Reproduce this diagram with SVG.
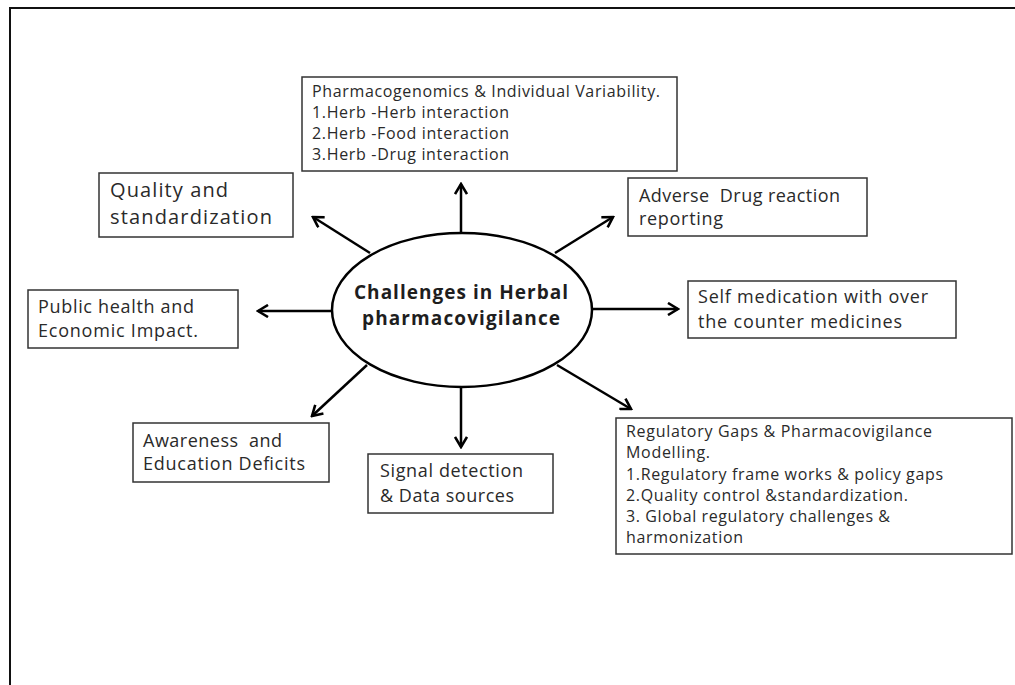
<svg xmlns="http://www.w3.org/2000/svg" width="1015" height="685" viewBox="0 0 1015 685">
<defs>
<style>
.box{fill:#fff;stroke:#333;stroke-width:1.5}
.t{font-family:"Open Sans","Noto Sans","Liberation Sans",sans-serif;fill:#2a2a2a;font-size:18px}
.ts{font-size:16px}
.tl{font-size:20px}
.c{font-family:"Open Sans","Noto Sans","Liberation Sans",sans-serif;font-weight:bold;fill:#1e1e1e;font-size:19px;text-anchor:middle}
.arr{stroke:#000;stroke-width:2.5;fill:none;marker-end:url(#ah)}
</style>
<marker id="ah" markerUnits="userSpaceOnUse" viewBox="0 0 14 14" refX="12" refY="7" markerWidth="14" markerHeight="14" orient="auto">
<path d="M2,1 L12,7 L2,13" fill="none" stroke="#000" stroke-width="2.6" stroke-linejoin="miter"/>
</marker>
</defs>
<rect width="1015" height="685" fill="#fff"/>
<rect x="10" y="8" width="1030" height="700" fill="none" stroke="#111" stroke-width="2"/>

<g id="connectors">
<line class="arr" x1="461" y1="233" x2="461" y2="184"/>
<line class="arr" x1="370" y1="253" x2="313" y2="217"/>
<line class="arr" x1="555" y1="253" x2="613" y2="217"/>
<line class="arr" x1="332" y1="311" x2="258" y2="311"/>
<line class="arr" x1="592" y1="309" x2="678" y2="309"/>
<line class="arr" x1="367" y1="365" x2="312" y2="416"/>
<line class="arr" x1="461" y1="387" x2="461" y2="447"/>
<line class="arr" x1="557" y1="365" x2="631" y2="409"/>
</g>

<g id="center">
<ellipse cx="462" cy="310" rx="130" ry="77" fill="#fff" stroke="#000" stroke-width="2.5"/>
<text class="c" x="461" y="299" textLength="214" lengthAdjust="spacing">Challenges in Herbal</text>
<text class="c" x="461" y="325" textLength="198" lengthAdjust="spacing">pharmacovigilance</text>
</g>

<g id="pharmacogenomics">
<rect class="box" x="302" y="77" width="375" height="94"/>
<text class="t ts" x="312" y="97" textLength="348" lengthAdjust="spacing">Pharmacogenomics &amp; Individual Variability.</text>
<text class="t ts" x="312" y="118" textLength="197" lengthAdjust="spacing">1.Herb -Herb interaction</text>
<text class="t ts" x="312" y="139" textLength="197" lengthAdjust="spacing">2.Herb -Food interaction</text>
<text class="t ts" x="312" y="160" textLength="197" lengthAdjust="spacing">3.Herb -Drug interaction</text>
</g>

<g id="quality">
<rect class="box" x="99" y="173" width="194" height="64"/>
<text class="t tl" x="110" y="197" textLength="118" lengthAdjust="spacing">Quality and</text>
<text class="t tl" x="110" y="224" textLength="162" lengthAdjust="spacing">standardization</text>
</g>

<g id="adverse">
<rect class="box" x="628" y="178" width="239" height="58"/>
<text class="t" x="639" y="202" textLength="201" lengthAdjust="spacing" xml:space="preserve">Adverse  Drug reaction</text>
<text class="t" x="639" y="225" textLength="84" lengthAdjust="spacing">reporting</text>
</g>

<g id="public-health">
<rect class="box" x="28" y="290" width="210" height="58"/>
<text class="t" x="38" y="313" textLength="156" lengthAdjust="spacing">Public health and</text>
<text class="t" x="38" y="337" textLength="160" lengthAdjust="spacing">Economic Impact.</text>
</g>

<g id="self-medication">
<rect class="box" x="688" y="281" width="268" height="57"/>
<text class="t" x="698" y="303" textLength="230" lengthAdjust="spacing">Self medication with over</text>
<text class="t" x="698" y="328" textLength="204" lengthAdjust="spacing">the counter medicines</text>
</g>

<g id="awareness">
<rect class="box" x="133" y="423" width="196" height="59"/>
<text class="t" x="143" y="447" textLength="139" lengthAdjust="spacing" xml:space="preserve">Awareness  and</text>
<text class="t" x="143" y="470" textLength="162" lengthAdjust="spacing">Education Deficits</text>
</g>

<g id="signal">
<rect class="box" x="368" y="454" width="185" height="59"/>
<text class="t" x="380" y="477" textLength="143" lengthAdjust="spacing">Signal detection</text>
<text class="t" x="380" y="502" textLength="134" lengthAdjust="spacing">&amp; Data sources</text>
</g>

<g id="regulatory">
<rect class="box" x="616" y="418" width="396" height="136"/>
<text class="t ts" x="626" y="437" textLength="306" lengthAdjust="spacing">Regulatory Gaps &amp; Pharmacovigilance</text>
<text class="t ts" x="626" y="458" textLength="84" lengthAdjust="spacing">Modelling.</text>
<text class="t ts" x="626" y="480" textLength="317" lengthAdjust="spacing">1.Regulatory frame works &amp; policy gaps</text>
<text class="t ts" x="626" y="501" textLength="282" lengthAdjust="spacing">2.Quality control &amp;standardization.</text>
<text class="t ts" x="626" y="522" textLength="264" lengthAdjust="spacing">3. Global regulatory challenges &amp;</text>
<text class="t ts" x="626" y="543" textLength="117" lengthAdjust="spacing">harmonization</text>
</g>
</svg>
